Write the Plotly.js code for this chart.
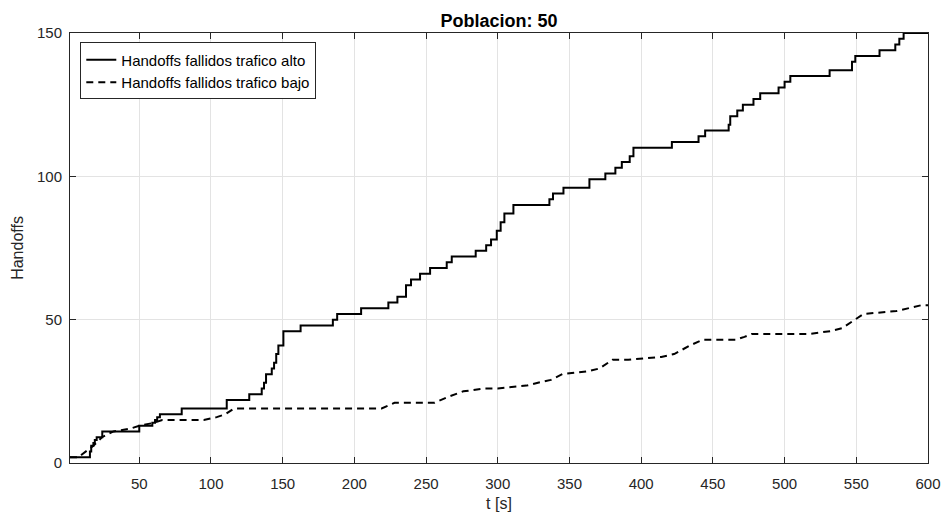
<!DOCTYPE html>
<html>
<head>
<meta charset="utf-8">
<script src="https://cdn.plot.ly/plotly-3.0.1.min.js"></script>
<style>html,body{margin:0;padding:0;background:#fff;}#chart{width:943px;height:516px;}</style>
</head>
<body>
<div id="chart"></div>
<script>
// Handoffs fallidos, trafico alto (step series)
const tHigh = [1.7, 15.6, 16.5, 18, 19, 20.3, 24.2, 50, 59.1, 61, 62.5, 64.4, 79.6, 111, 126.7, 135.4, 137, 138.4, 142.4, 144, 145.5, 147, 150.5, 162.5, 185, 188, 204.7, 223.7, 230, 236, 239.5, 245.8, 252.8, 264.4, 267.9, 284.6, 291.9, 295.3, 299.3, 302, 304.6, 310.9, 336, 338.5, 345.8, 363.9, 375, 382, 386.5, 392, 394.6, 421.4, 440, 444.6, 461, 462.1, 467, 470.9, 478.3, 483, 495.8, 500, 504, 531.4, 547, 549.3, 566.2, 577.2, 580, 583, 600];
const vHigh = [2, 4, 6, 7, 8, 9, 11, 13, 14, 15, 16, 17, 19, 22, 24, 26, 28, 31, 33, 35, 38, 41, 46, 48, 50, 52, 54, 56, 58, 62, 64, 66, 68, 70, 72, 74, 76, 78, 81, 84, 87, 90, 92, 94, 96, 99, 101, 103, 105, 107, 110, 112, 114, 116, 118, 121, 123, 125, 127, 129, 131, 133, 135, 137, 140, 142, 144, 146, 148, 150, 150];

// Handoffs fallidos, trafico bajo
const tLow = [1.7, 8, 10, 18, 24, 32, 44, 50, 60, 66, 95, 104, 110, 116, 219, 228, 256, 265, 276, 291, 300, 320, 328, 337, 345, 363, 371, 380, 391, 414, 423, 434, 443, 466, 472, 477, 517, 532, 540, 549, 555, 578, 586, 595, 600];
const vLow = [2, 2, 3, 6, 9, 11, 12, 13, 14, 15, 15, 16, 17, 19, 19, 21, 21, 23, 25, 26, 26, 27, 28, 29, 31, 32, 33, 36, 36, 37, 38, 41, 43, 43, 44, 45, 45, 46, 47, 50, 52, 53, 54, 55, 55];

const seriesNames = ["Handoffs fallidos trafico alto", "Handoffs fallidos trafico bajo"];
const xTicks = [50, 100, 150, 200, 250, 300, 350, 400, 450, 500, 550, 600];
const yTicks = [0, 50, 100, 150];

const axisColor = "#262626";
const fontFam = "Liberation Sans, Arial, Helvetica, sans-serif";

const traces = [
  {x: tHigh, y: vHigh, name: seriesNames[0], type: "scatter", mode: "lines",
   line: {color: "#000", width: 2, shape: "hv"}},
  {x: tLow, y: vLow, name: seriesNames[1], type: "scatter", mode: "lines",
   line: {color: "#000", width: 2, dash: "7px,5px"}}
];

const layout = {
  width: 943, height: 516,
  margin: {l: 70, r: 15, t: 33, b: 53},
  paper_bgcolor: "#fff", plot_bgcolor: "#fff",
  font: {family: fontFam, color: axisColor, size: 15},
  title: {text: "<b>Poblacion: 50</b>", font: {family: fontFam, size: 18, color: "#000"},
          xref: "paper", x: 0.5, xanchor: "center",
          yref: "container", y: 1 - 27 / 516, yanchor: "bottom"},
  showlegend: true,
  legend: {x: 0.012, y: 0.978, xanchor: "left", yanchor: "top",
           bgcolor: "#fff", bordercolor: axisColor, borderwidth: 1,
           font: {family: fontFam, size: 15, color: "#000"},
           tracegroupgap: 0, itemwidth: 30},
  xaxis: {
    range: [1.7, 600], tickvals: xTicks, ticktext: xTicks.map(String),
    showgrid: true, gridcolor: "#e3e3e3", gridwidth: 1, zeroline: false,
    showline: true, linecolor: axisColor, linewidth: 1, mirror: "ticks",
    ticks: "inside", ticklen: 6, tickcolor: axisColor, ticklabelstandoff: 7,
    tickfont: {family: fontFam, size: 15, color: axisColor},
    title: {text: "t [s]", font: {family: fontFam, size: 16, color: axisColor}, standoff: 6}
  },
  yaxis: {
    range: [0, 150], tickvals: yTicks, ticktext: yTicks.map(String),
    showgrid: true, gridcolor: "#e3e3e3", gridwidth: 1, zeroline: false,
    showline: true, linecolor: axisColor, linewidth: 1, mirror: "ticks",
    ticks: "inside", ticklen: 6, tickcolor: axisColor, ticklabelstandoff: 4,
    tickfont: {family: fontFam, size: 15, color: axisColor},
    title: {text: "Handoffs", font: {family: fontFam, size: 16, color: axisColor}, standoff: 9}
  }
};

Plotly.newPlot("chart", traces, layout, {displayModeBar: false, staticPlot: true});
</script>
</body>
</html>
